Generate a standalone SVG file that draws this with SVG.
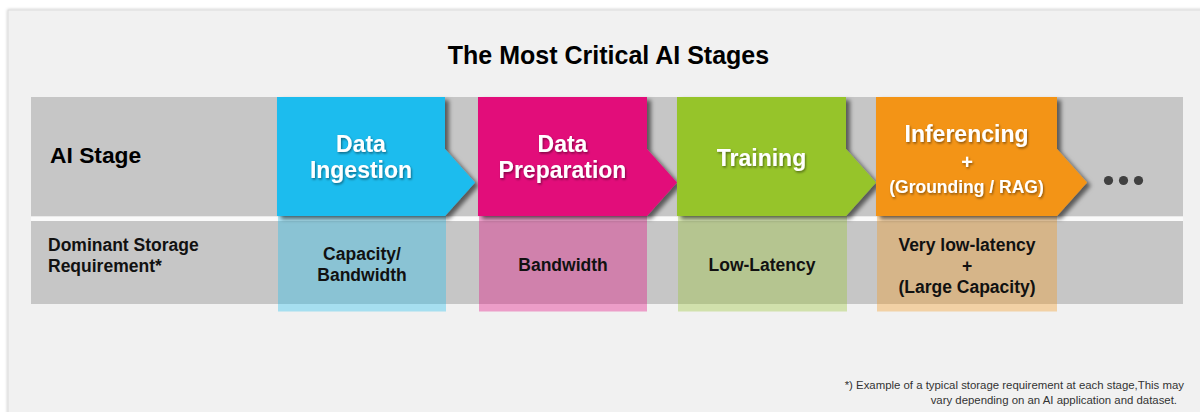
<svg xmlns="http://www.w3.org/2000/svg" width="1200" height="412" viewBox="0 0 1200 412">
<defs>
<filter id="sh" x="-10%" y="-10%" width="130%" height="130%">
<feDropShadow dx="4" dy="3" stdDeviation="2" flood-color="#000" flood-opacity="0.55"/>
</filter>
<filter id="tsh" x="-10%" y="-20%" width="130%" height="150%">
<feDropShadow dx="1" dy="1.5" stdDeviation="0.8" flood-color="#000" flood-opacity="0.45"/>
</filter>
<filter id="psh" x="-5%" y="-5%" width="110%" height="110%">
<feDropShadow dx="0" dy="0" stdDeviation="1.5" flood-color="#000" flood-opacity="0.25"/>
</filter>
</defs>
<style>
text{font-family:"Liberation Sans",Arial,Helvetica,sans-serif;}
.title{font-size:25px;font-weight:bold;fill:#000;text-anchor:middle;}
.lbl{font-size:22.8px;font-weight:bold;fill:#000;}
.stg{font-size:23px;font-weight:bold;fill:#fff;text-anchor:middle;filter:url(#tsh);}
.stgs{font-size:17.5px;font-weight:bold;fill:#fff;text-anchor:middle;filter:url(#tsh);}
.req{font-size:17.5px;font-weight:bold;fill:#111;}
.reqc{font-size:17.5px;font-weight:bold;fill:#111;text-anchor:middle;}
.note{font-size:11.4px;fill:#333;text-anchor:end;}
.band{fill:#c6c6c6;}
.box{opacity:0.35;}
</style>
<rect x="0" y="0" width="1200" height="412" fill="#ffffff"/>
<rect x="8" y="10" width="1200" height="410" fill="#f1f1f1" stroke="#dcdcdc" stroke-width="1" filter="url(#psh)"/>
<text class="title" x="608.5" y="64">The Most Critical AI Stages</text>

<g id="row-stage">
<rect class="band" x="31" y="97" width="1152" height="119.5"/>
<rect x="31" y="216.5" width="1152" height="4.5" fill="#fafafa"/>
<text class="lbl" x="50" y="163">AI Stage</text>
</g>
<g id="row-requirement">
<rect class="band" x="31" y="221" width="1152" height="83"/>
<text class="req" x="48" y="251">Dominant Storage</text>
<text class="req" x="48" y="272">Requirement*</text>
</g>

<g id="req-boxes">
<rect class="box" x="278" y="216" width="168" height="95.5" fill="#1bbcee"/>
<rect class="box" x="479" y="216" width="168" height="95.5" fill="#e2007a"/>
<rect class="box" x="678" y="216" width="169" height="95.5" fill="#96c42a"/>
<rect class="box" x="877" y="216" width="180" height="95.5" fill="#f39418"/>
</g>

<g id="connectors"></g>

<g id="data-ingestion">
<path d="M277,97 H445 V149 L475,182.5 L445,216 H277 Z" fill="#1bbcee" filter="url(#sh)"/>
<text class="stg" x="361" y="152">Data</text>
<text class="stg" x="361" y="178">Ingestion</text>
<text class="reqc" x="362" y="260">Capacity/</text>
<text class="reqc" x="362" y="281">Bandwidth</text>
</g>
<g id="data-preparation">
<path d="M478,97 H647 V149 L677,182.5 L647,216 H478 Z" fill="#e20b7a" filter="url(#sh)"/>
<text class="stg" x="562.5" y="152">Data</text>
<text class="stg" x="562.5" y="178">Preparation</text>
<text class="reqc" x="563" y="271">Bandwidth</text>
</g>
<g id="training">
<path d="M677,97 H846 V149 L876,182.5 L846,216 H677 Z" fill="#96c42a" filter="url(#sh)"/>
<text class="stg" x="761.5" y="166">Training</text>
<text class="reqc" x="762" y="271">Low-Latency</text>
</g>
<g id="inferencing">
<path d="M876,97 H1057 V149 L1087,182.5 L1057,216 H876 Z" fill="#f39418" filter="url(#sh)"/>
<text class="stg" x="966.5" y="142">Inferencing</text>
<text class="stg" x="967" y="169" style="font-size:20px">+</text>
<text class="stgs" x="966.5" y="193">(Grounding / RAG)</text>
<text class="reqc" x="967" y="251">Very low-latency</text>
<text class="reqc" x="967" y="272">+</text>
<text class="reqc" x="967" y="293">(Large Capacity)</text>
</g>
<g id="more">
<circle cx="1108.5" cy="180.5" r="4.6" fill="#404040"/>
<circle cx="1123.5" cy="180.5" r="4.6" fill="#404040"/>
<circle cx="1138.5" cy="180.5" r="4.6" fill="#404040"/>
</g>

<g id="footnote">
<text class="note" x="1184" y="389">*) Example of a typical storage requirement at each stage,This may</text>
<text class="note" x="1177" y="404">vary depending on an AI application and dataset.</text>
</g>
</svg>
